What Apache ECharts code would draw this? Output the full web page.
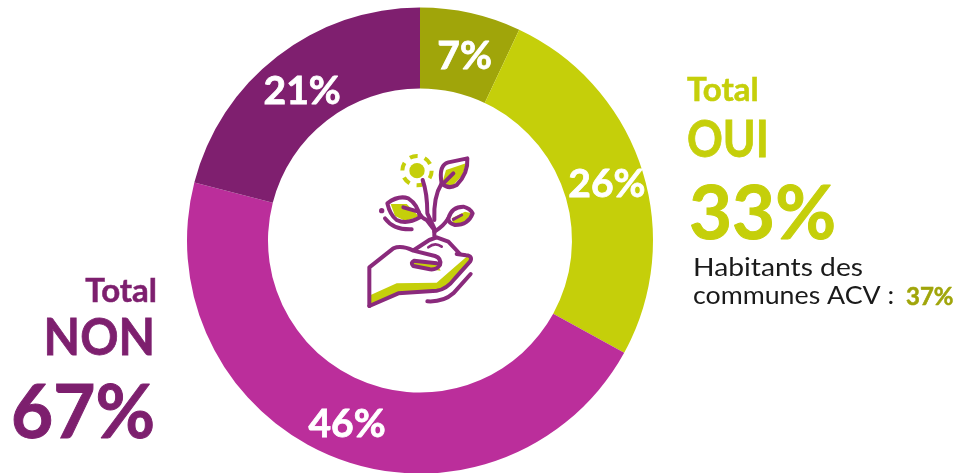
<!DOCTYPE html>
<html><head><meta charset="utf-8">
<style>html,body{margin:0;padding:0;background:#fff}#c{width:957px;height:473px}</style>
<script src="https://cdn.jsdelivr.net/npm/echarts@6/dist/echarts.min.js"></script>
</head><body><div id="c"></div>
<script>
const categories = ['Oui, tout à fait', 'Oui, plutôt', 'Non, plutôt pas', 'Non, pas du tout'];
const values = [7, 26, 46, 21];
const colors = ['#a0a50a', '#c5cf0a', '#bb2e9b', '#7f1f6f'];
const labelOffsets = [[2, 7], [1, 4], [-1, 2], [2, 5]];
const FONT = 'Lato';
const GREEN = '#c5cf0a', PLUM = '#7d1f6e', STROKE = '#8a2a7c';

function txt(x, y, text, size, fill, align, weight, sx, bw) {
  return {
    type: 'text', x, y, scaleX: sx || 1,
    style: { text, font: (weight || 'bold') + ' ' + size + 'px ' + FONT, fill, align: align || 'left', verticalAlign: 'middle',
      stroke: bw ? fill : null, lineWidth: bw || 0 }
  };
}
let shapeCount = 0;
function pathType(d) {
  const name = 'iconPath' + (shapeCount++);
  echarts.graphic.registerShape(name, echarts.graphic.extendPath(d, {}));
  return name;
}
function line(d, w) { return { type: pathType(d), style: { fill: 'none', stroke: STROKE, lineWidth: w || 12, lineCap: 'round', lineJoin: 'round' } }; }
function fillP(d, c) { return { type: pathType(d), style: { fill: c || GREEN, stroke: 'none' } }; }

const icon = {
  type: 'group', x: 340, y: 130, scaleX: 1 / 3, scaleY: 1 / 3,
  children: [
    { type: 'circle', shape: { cx: 231, cy: 122, r: 23 }, style: { fill: GREEN } },
    { type: 'circle', shape: { cx: 231, cy: 122, r: 44 }, style: { fill: 'none', stroke: GREEN, lineWidth: 12, lineDash: [24, 22] } },
    fillP('M92 525 L92 495 L170 460 L290 458 L345 410 L385 376 L396 385 L350 445 L300 482 L170 488 Z'),
    fillP('M215 392 L290 400 L302 422 L225 412 Z'),
    fillP('M305 165 L318 120 L378 100 L368 135 L335 170 Z'),
    fillP('M152 222 L200 222 L238 260 L195 272 L165 258 Z'),
    fillP('M335 265 L375 245 L395 250 L370 282 L340 282 Z'),
    line('M88 528 L88 412 L160 355 Q185 345 220 362 L285 378 Q305 385 300 405 Q290 420 270 418 L220 408 Q210 398 222 392 L290 400'),
    line('M88 528 L175 490 L290 482 Q320 478 345 445 L390 395 Q400 378 378 376 L350 372'),
    line('M222 360 L268 330 L290 322 L325 335 L360 372'),
    line('M265 352 Q285 335 305 350', 8),
    line('M262 514 Q310 517 340 490 L392 432'),
    line('M283 318 L283 295 L262 250 Q262 190 248 150'),
    line('M283 270 Q280 200 305 160'),
    line('M305 160 Q295 105 325 97 L382 85 Q385 130 350 165 Q325 180 305 160 Z'),
    line('M310 160 L340 130'),
    line('M283 300 L260 270 Q245 265 235 245 L190 232'),
    line('M142 220 Q175 195 205 205 Q235 225 240 262 Q200 285 170 270 Q150 255 142 220 Z'),
    line('M283 305 Q310 290 325 265'),
    line('M325 265 Q335 230 370 230 Q390 235 398 250 Q385 285 345 285 Q325 280 325 265 Z'),
    line('M340 268 L365 255', 9),
    line('M135 265 Q160 300 215 298'),
    { type: 'circle', shape: { cx: 125, cy: 242, r: 8 }, style: { fill: STROKE } }
  ]
};

const chart = echarts.init(document.getElementById('c'), null, { renderer: 'canvas' });
chart.setOption({
  animation: false,
  backgroundColor: '#fff',
  color: colors,
  series: [{
    type: 'pie',
    center: [420, 240.5],
    radius: [152, 233],
    startAngle: 90,
    clockwise: true,
    silent: true,
    data: categories.map((name, i) => ({ name, value: values[i], label: { offset: labelOffsets[i] } })),
    itemStyle: { borderWidth: 0 },
    label: {
      show: true, position: 'inside', formatter: '{c}%',
      color: '#fff', fontFamily: FONT, fontWeight: 'bold', fontSize: 39,
      textBorderColor: '#fff', textBorderWidth: 0.8
    },
    labelLine: { show: false }
  }],
  graphic: [
    icon,
    txt(687, 90, 'Total', 33, GREEN, 'left', 'bold', 1, 0.5),
    txt(687, 141, 'OUI', 51, GREEN, 'left', 'bold', 0.87, 0.8),
    txt(689, 215, '33%', 75, GREEN, 'left', 'bold', 0.99, 1),
    txt(693, 268, 'Habitants des', 25, '#1a1a1a', 'left', 'normal', 1.13),
    txt(693, 296, 'communes ACV :', 25, '#1a1a1a', 'left', 'normal', 1.07),
    txt(906, 297, '37%', 24, '#a0a50a', 'left', 'bold', 1, 0.5),
    txt(157, 291, 'Total', 33, PLUM, 'right', 'bold', 1, 0.5),
    txt(155, 339, 'NON', 51, PLUM, 'right', 'bold', 0.93, 0.8),
    txt(155, 414, '67%', 75, PLUM, 'right', 'bold', 0.97, 1)
  ]
});
</script></body></html>
